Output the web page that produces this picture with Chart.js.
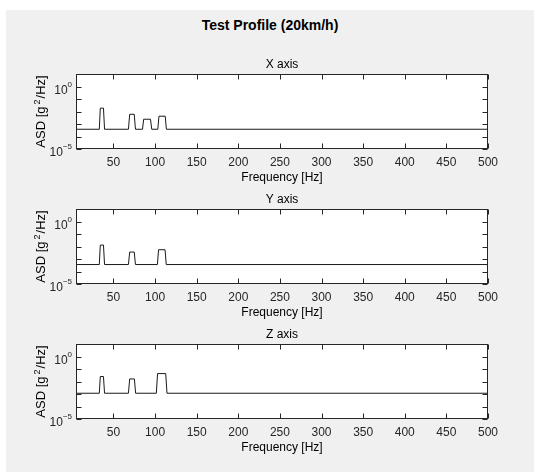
<!DOCTYPE html>
<html>
<head>
<meta charset="utf-8">
<script src="https://cdn.jsdelivr.net/npm/chart.js@4/dist/chart.umd.min.js"></script>
<style>
  body { margin: 0; background: #fff; width: 534px; height: 473px; overflow: hidden; }
  #fig { position: absolute; left: 6px; top: 10px; width: 528px; height: 462px; background: #f0f0f0; }
  #title { position: absolute; left: 6px; width: 528px; top: 18px; text-align: center;
           font: bold 14px "Liberation Sans", Arial, sans-serif; line-height: 14px; color: #000; }
  canvas { position: absolute; left: 0; }
</style>
</head>
<body>
<div id="fig"></div>
<div id="title">Test Profile (20km/h)</div>
<canvas id="plotX" width="534" height="139" style="top:50px"></canvas>
<canvas id="plotY" width="534" height="139" style="top:185px"></canvas>
<canvas id="plotZ" width="534" height="139" style="top:320px"></canvas>
<script>
// test profile ASD, one subplot per axis (log y)

const xTicks = [50, 100, 150, 200, 250, 300, 350, 400, 450, 500];
const yDecades = [1e-5, 1e-4, 1e-3, 1e-2, 1e-1, 1e0, 1e1];
const yLabelExp = ['0', '-5'];
const subplotTitles = ['X axis', 'Y axis', 'Z axis'];

// X axis profile
const freqX = [5, 33, 34.2, 38, 39.3, 68, 69.5, 75, 76.4, 84.9, 86.3, 94.5, 96, 103.3, 104.7, 112.2, 113.6, 500];
const asdX = [3.8e-4, 3.8e-4, 0.0186, 0.0186, 3.8e-4, 3.8e-4, 0.006, 0.006, 3.8e-4,
              3.8e-4, 0.0024, 0.0024, 3.8e-4, 3.8e-4, 0.0042, 0.0042, 3.8e-4, 3.8e-4];

// Y axis profile
const freqY = [5, 33, 34.2, 38, 39.3, 68, 69.5, 75, 76.4, 102.8, 104.2, 112, 113.4, 500];
const asdY = [3.6e-4, 3.6e-4, 0.013, 0.013, 3.6e-4, 3.6e-4, 0.0036, 0.0036, 3.6e-4,
              3.6e-4, 0.0055, 0.0055, 3.6e-4, 3.6e-4];

// Z axis profile
const freqZ = [5, 33, 34.2, 38, 39.3, 68, 69.5, 75.2, 76.6, 101.5, 103, 112.8, 114.3, 500];
const asdZ = [1.15e-3, 1.15e-3, 0.025, 0.025, 1.15e-3, 1.15e-3, 0.016, 0.016, 1.15e-3,
              1.15e-3, 0.043, 0.043, 1.15e-3, 1.15e-3];

const FONT = '"Liberation Sans", Arial, sans-serif';
const INK = '#262626';

Chart.defaults.font.family = FONT;
Chart.defaults.font.size = 12;
Chart.defaults.color = INK;

// matlab style box, inside ticks, 10^n labels, titles
const axesFrame = {
    id: 'axesFrame',
    beforeDraw(chart) {
        const a = chart.chartArea;
        const ctx = chart.ctx;
        ctx.save();
        ctx.fillStyle = '#fff';
        ctx.fillRect(a.left, a.top, a.right - a.left, a.bottom - a.top);
        ctx.restore();
    },
    afterDatasetsDraw(chart, args, opts) {
        const a = chart.chartArea;
        const ctx = chart.ctx;
        const xs = chart.scales.x;
        const ys = chart.scales.y;
        const L = Math.round(a.left) + 0.5, R = Math.round(a.right) - 0.5;
        const T = Math.round(a.top) + 0.5, B = Math.round(a.bottom) - 0.5;
        ctx.save();
        ctx.strokeStyle = INK;
        ctx.lineWidth = 1;
        ctx.strokeRect(L, T, R - L, B - T);

        ctx.beginPath();
        xTicks.forEach(v => {
            const px = Math.round(xs.getPixelForValue(v)) + 0.5;
            ctx.moveTo(px, B); ctx.lineTo(px, B - 5);
            ctx.moveTo(px, T); ctx.lineTo(px, T + 5);
        });
        yDecades.forEach(v => {
            const py = Math.round(ys.getPixelForValue(v)) + 0.5;
            ctx.moveTo(L, py); ctx.lineTo(L + 5, py);
            ctx.moveTo(R, py); ctx.lineTo(R - 5, py);
        });
        ctx.stroke();

        // y tick labels as 10 with superscript exponent
        ctx.fillStyle = INK;
        ctx.textBaseline = 'alphabetic';
        ctx.textAlign = 'left';
        yLabelExp.forEach(e => {
            const py = ys.getPixelForValue(Math.pow(10, Number(e)));
            ctx.font = '12px ' + FONT;
            const wBase = ctx.measureText('10').width;
            ctx.font = '8px ' + FONT;
            const wExp = ctx.measureText(e.replace('-', '\u2212')).width;
            const x0 = a.left - 4 - wBase - wExp;
            ctx.font = '12px ' + FONT;
            ctx.fillText('10', x0, py + 7);
            ctx.font = '8px ' + FONT;
            ctx.fillText(e.replace('-', '\u2212'), x0 + wBase, py);
        });

        // y axis title, rotated, with superscript 2
        const cy = (a.top + a.bottom) / 2;
        ctx.translate(44.5, cy);
        ctx.rotate(-Math.PI / 2);
        ctx.fillStyle = '#000';
        ctx.font = '13px ' + FONT;
        const p1 = 'ASD [g', p3 = '/Hz]';
        const w1 = ctx.measureText(p1).width, w3 = ctx.measureText(p3).width;
        ctx.font = '9px ' + FONT;
        const w2 = ctx.measureText('2').width + 3;
        let x = -(w1 + w2 + w3) / 2;
        ctx.font = '13px ' + FONT;
        ctx.fillText(p1, x, 0);
        x += w1;
        ctx.font = '9px ' + FONT;
        ctx.fillText('2', x + 2, -5);
        x += w2;
        ctx.font = '13px ' + FONT;
        ctx.fillText(p3, x, 0);
        ctx.restore();

        // subplot title
        ctx.save();
        ctx.fillStyle = '#000';
        ctx.font = '12px ' + FONT;
        ctx.textAlign = 'center';
        ctx.textBaseline = 'alphabetic';
        ctx.fillText(opts.text, (a.left + a.right) / 2, a.top - 6);
        ctx.restore();
    }
};

const makePlot = (id, freq, asd, title) => {
    const config = {
        type: 'line',
        data: {
            datasets: [{
                data: freq.map((f, i) => ({ x: f, y: asd[i] })),
                borderColor: '#1a1a1a',
                borderWidth: 1,
                pointRadius: 0,
                tension: 0,
                fill: false
            }]
        },
        options: {
            responsive: false,
            animation: false,
            layout: { padding: { top: 24, right: 46, left: 0, bottom: 0 } },
            plugins: {
                legend: { display: false },
                tooltip: { enabled: false },
                axesFrame: { text: title }
            },
            scales: {
                x: {
                    type: 'linear',
                    min: 5,
                    max: 500,
                    grid: { display: false, drawTicks: false },
                    border: { display: false },
                    ticks: { padding: 6, color: INK, font: { size: 12 } },
                    afterBuildTicks: s => { s.ticks = xTicks.map(v => ({ value: v })); },
                    afterFit: s => { s.height = 40; },
                    title: {
                        display: true,
                        text: 'Frequency [Hz]',
                        color: '#000',
                        font: { size: 12 },
                        padding: { top: 0, bottom: 4 }
                    }
                },
                y: {
                    type: 'logarithmic',
                    min: 1e-5,
                    max: 10,
                    grid: { display: false, drawTicks: false },
                    border: { display: false },
                    ticks: { display: false },
                    afterFit: s => { s.width = 76; }
                }
            }
        },
        plugins: [axesFrame]
    };
    return new Chart(document.getElementById(id), config);
};

makePlot('plotX', freqX, asdX, subplotTitles[0]);
makePlot('plotY', freqY, asdY, subplotTitles[1]);
makePlot('plotZ', freqZ, asdZ, subplotTitles[2]);
</script>
</body>
</html>
